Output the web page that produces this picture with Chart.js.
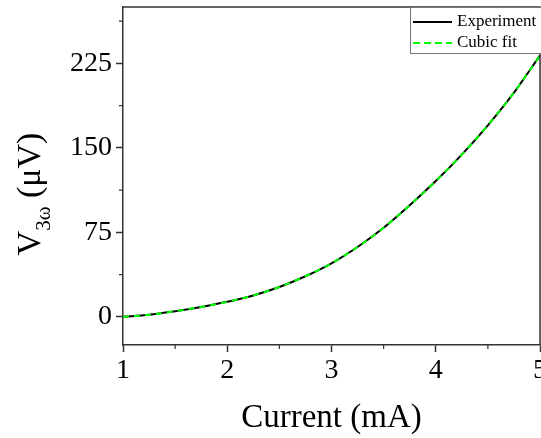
<!DOCTYPE html>
<html>
<head>
<meta charset="utf-8">
<script src="https://cdn.jsdelivr.net/npm/chart.js@4"></script>
<style>
  html, body { margin: 0; padding: 0; background: #fff; }
  #wrap { width: 541px; height: 438px; }
</style>
</head>
<body>
<div id="wrap"><canvas id="c" width="541" height="438"></canvas></div>
<script>
// values
const current = [1, 1.25, 1.5, 1.75, 2, 2.25, 2.5, 2.75, 3, 3.25, 3.5, 3.75, 4, 4.25, 4.5, 4.75, 5];
const experiment = [0, 1.8, 5, 8.8, 13.3, 19, 26.5, 36, 47.5, 62, 79, 99, 120.5, 144, 170, 199, 232];
const cubicFit = [0, 1.8, 5, 8.8, 13.3, 19, 26.5, 36, 47.5, 62, 79, 99, 120.5, 144, 170, 199, 232];
const xTicks = [1, 2, 3, 4, 5];
const xMinor = [1.5, 2.5, 3.5, 4.5];
const yTicks = [0, 75, 150, 225];
const yMinor = [37.5, 112.5, 187.5, 262.5];

const serif = "'Liberation Serif', 'Times New Roman', serif";
const frameColor = '#333';

// box frame, minor ticks, y title, legend
const extras = {
    id: 'extras',
    afterDraw(chart) {
        const ctx = chart.ctx;
        const a = chart.chartArea;
        const xs = chart.scales.x, ys = chart.scales.y;
        ctx.save();
        ctx.strokeStyle = frameColor;
        ctx.lineWidth = 1.5;
        ctx.beginPath();
        ctx.moveTo(a.left, a.top);
        ctx.lineTo(a.right, a.top);
        ctx.lineTo(a.right, a.bottom);
        ctx.stroke();

        // minor ticks
        ctx.lineWidth = 1.2;
        ctx.beginPath();
        xMinor.forEach(v => {
            const px = xs.getPixelForValue(v);
            ctx.moveTo(px, a.bottom);
            ctx.lineTo(px, a.bottom + 4);
        });
        yMinor.forEach(v => {
            const py = ys.getPixelForValue(v);
            ctx.moveTo(a.left, py);
            ctx.lineTo(a.left - 4, py);
        });
        ctx.stroke();

        // y title V_3ω (μV)
        ctx.fillStyle = '#000';
        ctx.textBaseline = 'alphabetic';
        ctx.textAlign = 'left';
        const big = '34px ' + serif, small = '21px ' + serif;
        ctx.font = big;
        const wV = ctx.measureText('V').width;
        const wRest = ctx.measureText(' (μV)').width;
        ctx.font = small;
        const wSub = ctx.measureText('3ω').width;
        const total = wV + wSub + wRest;
        ctx.translate(40, 194);
        ctx.rotate(-Math.PI / 2);
        let x0 = -total / 2;
        ctx.font = big;
        ctx.fillText('V', x0, 0);
        x0 += wV;
        ctx.font = small;
        ctx.fillText('3ω', x0, 10);
        x0 += wSub;
        ctx.font = big;
        ctx.fillText(' (μV)', x0, 0);
        ctx.setTransform(1, 0, 0, 1, 0, 0);

        // legend
        const lx = 410.5, ly = 7.5;
        ctx.fillStyle = '#fff';
        ctx.fillRect(lx, ly, 140, 46);
        ctx.strokeStyle = '#777';
        ctx.lineWidth = 1;
        ctx.strokeRect(lx, ly, 140, 46);
        ctx.font = '17px ' + serif;
        ctx.textBaseline = 'middle';
        chart.data.datasets.forEach((ds, i) => {
            const y = 22 + i * 21;
            ctx.strokeStyle = ds.borderColor;
            ctx.lineWidth = 2;
            ctx.setLineDash(ds.borderDash ? [7, 4] : []);
            ctx.beginPath();
            ctx.moveTo(413, y);
            ctx.lineTo(452, y);
            ctx.stroke();
            ctx.setLineDash([]);
            ctx.fillStyle = '#000';
            ctx.fillText(ds.label, 457, y);
        });
        ctx.restore();
    }
};

new Chart(document.getElementById('c'), {
    type: 'line',
    data: {
        datasets: [
            {
                label: 'Experiment',
                data: current.map((x, i) => ({ x: x, y: experiment[i] })),
                borderColor: '#000',
                borderWidth: 2,
                pointRadius: 0,
                order: 1,
                cubicInterpolationMode: 'monotone'
            },
            {
                label: 'Cubic fit',
                data: current.map((x, i) => ({ x: x, y: cubicFit[i] })),
                borderColor: '#00ff00',
                borderWidth: 2,
                borderDash: [6, 5],
                pointRadius: 0,
                order: 0,
                cubicInterpolationMode: 'monotone'
            }
        ]
    },
    options: {
        responsive: false,
        animation: false,
        layout: {
            autoPadding: false,
            padding: { top: 7, right: 1, bottom: 0, left: 0 }
        },
        plugins: {
            legend: { display: false },
            tooltip: { enabled: false }
        },
        scales: {
            x: {
                type: 'linear',
                min: 1,
                max: 5,
                afterBuildTicks: (axis) => { axis.ticks = xTicks.map(v => ({ value: v })); },
                afterFit: (axis) => {
                    axis.height = 93;
                    axis.paddingLeft = 0;
                    axis.paddingRight = 0;
                },
                grid: { drawOnChartArea: false, tickLength: 7, tickColor: frameColor, tickWidth: 1.5 },
                border: { display: true, color: frameColor, width: 1.5 },
                ticks: { font: { family: serif, size: 28 }, color: '#000', padding: 2, maxRotation: 0 },
                title: {
                    display: true,
                    text: 'Current (mA)',
                    font: { family: serif, size: 33 },
                    color: '#000',
                    padding: { top: 4, bottom: 0 }
                }
            },
            y: {
                type: 'linear',
                min: -25,
                max: 275,
                afterBuildTicks: (axis) => { axis.ticks = yTicks.map(v => ({ value: v })); },
                afterFit: (axis) => {
                    axis.width = 123;
                    axis.paddingTop = 0;
                    axis.paddingBottom = 0;
                },
                grid: { drawOnChartArea: false, tickLength: 7, tickColor: frameColor, tickWidth: 1.5 },
                border: { display: true, color: frameColor, width: 1.5 },
                ticks: { font: { family: serif, size: 28 }, color: '#000', padding: 4 }
            }
        }
    },
    plugins: [extras]
});
</script>
</body>
</html>
